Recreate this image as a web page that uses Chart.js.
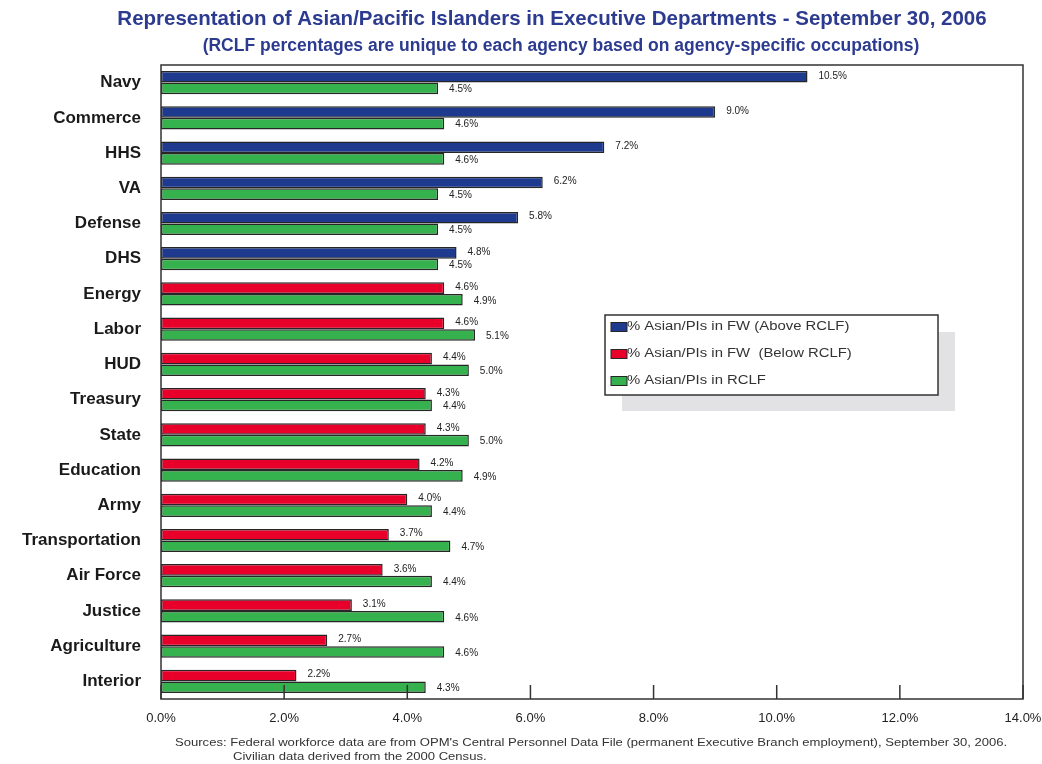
<!DOCTYPE html>
<html>
<head>
<meta charset="utf-8">
<script src="https://cdn.jsdelivr.net/npm/chart.js@4/dist/chart.umd.min.js"></script>
<style>
  body { margin: 0; background: #fff; }
  #caja { position: relative; width: 1042px; height: 764px; }
</style>
</head>
<body>
<div id="caja"><canvas id="grafica"></canvas></div>
<script>
let agencias = ["Navy", "Commerce", "HHS", "VA", "Defense", "DHS", "Energy", "Labor", "HUD",
    "Treasury", "State", "Education", "Army", "Transportation", "Air Force", "Justice",
    "Agriculture", "Interior"];
let porcentajeFW = [10.5, 9.0, 7.2, 6.2, 5.8, 4.8, 4.6, 4.6, 4.4, 4.3, 4.3, 4.2, 4.0, 3.7, 3.6, 3.1, 2.7, 2.2];
let porcentajeRCLF = [4.5, 4.6, 4.6, 4.5, 4.5, 4.5, 4.9, 5.1, 5.0, 4.4, 5.0, 4.9, 4.4, 4.7, 4.4, 4.6, 4.6, 4.3];
let etiquetasX = ["0.0%", "2.0%", "4.0%", "6.0%", "8.0%", "10.0%", "12.0%", "14.0%"];
let textosLeyenda = ["% Asian/PIs in FW (Above RCLF)", "% Asian/PIs in FW  (Below RCLF)", "% Asian/PIs in RCLF"];
let titulo = "Representation of Asian/Pacific Islanders in Executive Departments - September 30, 2006";
let subtitulo = "(RCLF percentages are unique to each agency based on agency-specific occupations)";
let fuentes = ["Sources: Federal workforce data are from OPM's Central Personnel Data File (permanent Executive Branch employment), September 30, 2006.",
    "Civilian data derived from the 2000 Census."];

let encima = porcentajeFW.map((v, i) => v > porcentajeRCLF[i] ? v : null);
let debajo = porcentajeFW.map((v, i) => v <= porcentajeRCLF[i] ? v : null);

const AZUL = "#1d3a8e", ROJO = "#e8002b", VERDE = "#35b14d", BORDE = "#262626";
const FUENTE = "'Liberation Sans', Arial, sans-serif";

// texto estirado a lo ancho, como en la imagen original
function textoAncho(ctx, texto, x, y, estirar) {
    ctx.save();
    ctx.translate(x, y);
    ctx.scale(estirar, 1);
    ctx.fillText(texto, 0, 0);
    ctx.restore();
}

// etiquetas de valor al final de cada barra
const etiquetasBarras = {
    id: "etiquetasBarras",
    afterDatasetsDraw(chart) {
        let ctx = chart.ctx;
        ctx.save();
        ctx.font = "10px " + FUENTE;
        ctx.fillStyle = "#222";
        ctx.textAlign = "left";
        ctx.textBaseline = "middle";
        chart.data.datasets.forEach((ds, d) => {
            chart.getDatasetMeta(d).data.forEach((el, i) => {
                if (ds.data[i] === null) return;
                let dy = d === 2 ? 1 : -1;
                ctx.fillText(ds.data[i].toFixed(1) + "%", el.x + 11, el.y + dy);
            });
        });
        ctx.restore();
    }
};

// titulos, marco, marcas del eje x, leyenda y fuentes
const marco = {
    id: "marco",
    afterDraw(chart) {
        let ctx = chart.ctx;
        let a = chart.chartArea;
        let x = chart.scales.x;
        ctx.save();

        ctx.fillStyle = "#2c3b8f";
        ctx.textAlign = "center";
        ctx.textBaseline = "middle";
        ctx.font = "bold 20.5px " + FUENTE;
        ctx.fillText(titulo, 552, a.top - 46);
        ctx.font = "bold 17.5px " + FUENTE;
        ctx.fillText(subtitulo, 561, a.top - 19);

        ctx.strokeStyle = "#333";
        ctx.lineWidth = 1.5;
        ctx.strokeRect(a.left, a.top, a.right - a.left, a.bottom - a.top);
        x.ticks.forEach(t => {
            let px = x.getPixelForValue(t.value);
            ctx.beginPath();
            ctx.moveTo(px, a.bottom);
            ctx.lineTo(px, a.bottom - 14);
            ctx.stroke();
        });

        // leyenda
        let lx = a.left + 444, ly = a.top + 250;
        ctx.fillStyle = "#e2e2e4";
        ctx.fillRect(lx + 17, ly + 17, 333, 79);
        ctx.fillStyle = "#fff";
        ctx.fillRect(lx, ly, 333, 80);
        ctx.strokeStyle = "#333";
        ctx.lineWidth = 1.5;
        ctx.strokeRect(lx, ly, 333, 80);
        let colores = [AZUL, ROJO, VERDE];
        ctx.font = "12.5px " + FUENTE;
        ctx.textBaseline = "middle";
        ctx.textAlign = "left";
        textosLeyenda.forEach((t, i) => {
            let cy = ly + 12 + i * 27;
            ctx.fillStyle = colores[i];
            ctx.fillRect(lx + 6, cy - 4.5, 16, 9);
            ctx.strokeStyle = BORDE;
            ctx.lineWidth = 1;
            ctx.strokeRect(lx + 6, cy - 4.5, 16, 9);
            ctx.fillStyle = "#333";
            textoAncho(ctx, t, lx + 22, cy, 1.19);
        });

        // fuentes
        ctx.font = "10.5px " + FUENTE;
        ctx.fillStyle = "#333";
        textoAncho(ctx, fuentes[0], a.left + 14, a.bottom + 44, 1.245);
        textoAncho(ctx, fuentes[1], a.left + 72, a.bottom + 58, 1.245);
        ctx.restore();
    }
};

new Chart(document.getElementById("grafica"), {
    type: "bar",
    data: {
        labels: agencias,
        datasets: [
            { label: textosLeyenda[0], data: encima, stack: "fw", backgroundColor: AZUL },
            { label: textosLeyenda[1], data: debajo, stack: "fw", backgroundColor: ROJO },
            { label: textosLeyenda[2], data: porcentajeRCLF, stack: "rclf", backgroundColor: VERDE }
        ]
    },
    options: {
        indexAxis: "y",
        responsive: true,
        maintainAspectRatio: false,
        animation: false,
        datasets: {
            bar: {
                borderColor: BORDE,
                borderWidth: 1.5,
                borderSkipped: false,
                categoryPercentage: 0.66,
                barPercentage: 1.0
            }
        },
        layout: { padding: { left: 0, right: 19, top: 65, bottom: 40 } },
        plugins: {
            legend: { display: false },
            tooltip: { enabled: false }
        },
        scales: {
            x: {
                stacked: true,
                min: 0,
                max: 14,
                ticks: {
                    stepSize: 2,
                    padding: 12,
                    color: "#222",
                    font: { family: FUENTE, size: 13 },
                    callback: (v, i) => etiquetasX[i]
                },
                grid: { display: false, drawTicks: false },
                border: { display: false },
                afterFit: s => { s.height = 25; s.paddingLeft = 0; s.paddingRight = 0; }
            },
            y: {
                stacked: true,
                ticks: {
                    padding: 20,
                    color: "#1a1a1a",
                    font: { family: FUENTE, size: 17, weight: "bold" }
                },
                grid: { display: false, drawTicks: false },
                border: { display: false },
                afterFit: s => { s.width = 161; }
            }
        }
    },
    plugins: [etiquetasBarras, marco]
});
</script>
</body>
</html>
